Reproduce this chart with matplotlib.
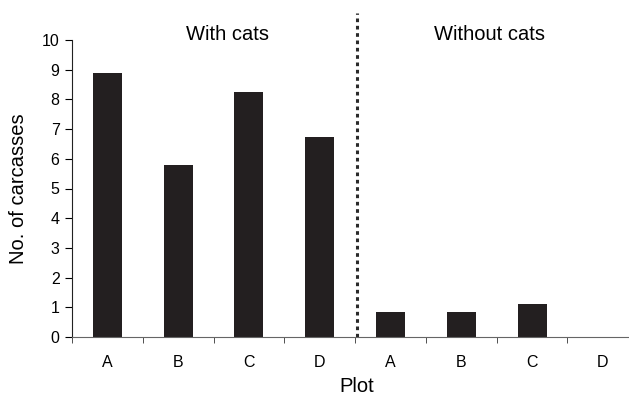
import numpy as np
import matplotlib
matplotlib.use("Agg")
import matplotlib.pyplot as plt

plt.rcParams["font.family"] = ["Liberation Sans", "DejaVu Sans"]

# data
plots = ["A", "B", "C", "D", "A", "B", "C", "D"]
with_cats = [8.9, 5.8, 8.25, 6.73]
without_cats = [0.84, 0.84, 1.11, 0.0]
counts = with_cats + without_cats

x = np.arange(len(plots))

fig = plt.figure(figsize=(6.29, 4.05), dpi=100)
ax = fig.add_axes([72 / 629, 68 / 405, 1 - 72 / 629, (337 - 40) / 405])

ax.bar(x, counts, width=0.41, color="#231f20")

ax.set_xlim(-0.5, 7.37)
ax.set_ylim(0, 10)
ax.set_yticks(range(0, 11))

# category labels in the middle, ticks on the boundaries
ax.set_xticks(x)
ax.set_xticklabels(plots)
ax.tick_params(axis="x", which="major", length=0, pad=13, labelsize=11.5)
ax.set_xticks(np.arange(-0.5, 7.5, 1), minor=True)
ax.tick_params(axis="x", which="minor", length=4, direction="out", color="#333333")
ax.tick_params(axis="y", length=5, direction="out", pad=4, labelsize=11.5)

for s in ["top", "right"]:
    ax.spines[s].set_visible(False)
ax.spines["bottom"].set_color("#666666")
ax.spines["left"].set_color("#222222")

# divider between the two groups
ax.plot([3.52, 3.52], [0, 10.9], color="#2a2a2a", linestyle=(0, (1.2, 1.2)),
        linewidth=2.2, dash_capstyle="butt", clip_on=False)

ax.text(1.7, 10.2, "With cats", ha="center", va="center", fontsize=14.5)
ax.text(5.4, 10.2, "Without cats", ha="center", va="center", fontsize=14.5)

ax.set_ylabel("No. of carcasses", fontsize=14.5, va="center")
ax.yaxis.set_label_coords((18.5 - 72) / (629 - 72), 0.5)
ax.set_xlabel("Plot", fontsize=14.5, va="center")
ax.xaxis.set_label_coords((357 - 72) / (629 - 72), (337 - 386) / 297)

fig.savefig("out.png", dpi=100)
